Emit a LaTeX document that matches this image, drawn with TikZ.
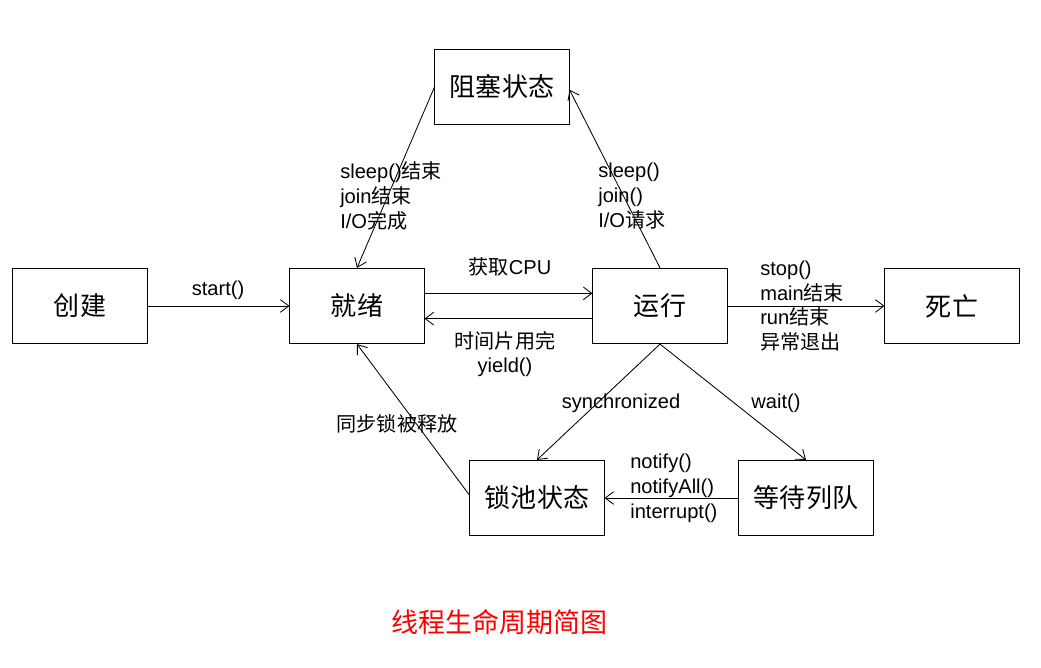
\documentclass[tikz,border=0pt]{standalone}
\usepackage{fontspec}
\setmainfont{Liberation Sans}
\newfontfamily\cjk{Noto Sans CJK SC}
\newcommand\zh[1]{{\cjk #1}}
\usetikzlibrary{arrows.meta}

\begin{document}
\begin{tikzpicture}[x=0.025cm,y=-0.025cm,
    state/.style={draw,line width=0.7pt,minimum width=3.35cm,minimum height=1.88cm,
        font=\cjk\fontsize{18.5}{20}\selectfont},
    lbl/.style={inner sep=0pt,align=left,font=\fontsize{14.3}{17.7}\selectfont},
    conn/.style={line width=0.6pt,-{Straight Barb[length=6pt,width=9pt]}}]
            \useasboundingbox (0,0) rectangle (1041,668);
            % states
            \node[state] (chuangjian) at (80,306) {创建};
            \node[state] (jiuxu) at (357,306) {就绪};
            \node[state] (yunxing) at (660,306) {运行};
            \node[state] (siwang) at (952,306) {死亡};
            \node[state] (zuse) at (502,87) {阻塞状态};
            \node[state] (suochi) at (537,498) {锁池状态};
            \node[state] (dengdai) at (806,498) {等待列队};
            % transitions
            \draw[conn] (chuangjian) -- (jiuxu);
            \draw[conn] ([yshift=9pt]jiuxu.east) -- ([yshift=9pt]yunxing.west);
            \draw[conn] ([yshift=-9pt]yunxing.west) -- ([yshift=-9pt]jiuxu.east);
            \draw[conn] (zuse.west) -- (jiuxu.north);
            \draw[conn] (yunxing.north) -- ([yshift=-2pt]zuse.east);
            \draw[conn] (yunxing) -- (siwang);
            \draw[conn] (yunxing.south) -- (suochi.north);
            \draw[conn] (yunxing.south) -- (dengdai.north);
            \draw[conn] (dengdai) -- (suochi);
            \draw[conn] ([yshift=2pt]suochi.west) -- (jiuxu.south);
            % labels
            \node[lbl] (lstart) at (218,290) {start()};
            \node[lbl] (lcpu) at (510,267) {\zh{获取}CPU};
            \node[lbl,align=center] (lyield) at (505,354) {\zh{时间片用完}\\yield()};
            \node[lbl,anchor=west] (lwake) at (340,196) {sleep()\zh{结束}\\join\zh{结束}\\I/O\zh{完成}};
            \node[lbl,anchor=west] (lblock) at (598,196) {sleep()\\join()\\I/O\zh{请求}};
            \node[lbl,anchor=west] (ldie) at (760,306) {stop()\\main\zh{结束}\\run\zh{结束}\\\zh{异常退出}};
            \node[lbl] (lsync) at (621,403) {synchronized};
            \node[lbl] (lwait) at (776,403) {wait()};
            \node[lbl] (lrelease) at (397,424) {\zh{同步锁被释放}};
            \node[lbl,anchor=west] (lnotify) at (630,488) {notify()\\notifyAll()\\interrupt()};
            \node[text=red,font=\cjk\fontsize{19.2}{22}\selectfont] (title) at (499,622) {线程生命周期简图};
        \end{tikzpicture}
\end{document}
